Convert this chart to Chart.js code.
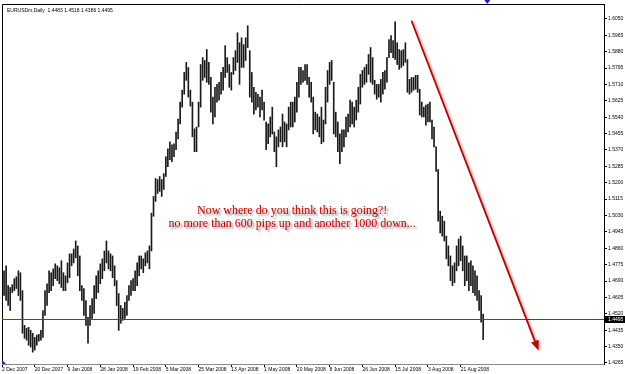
<!DOCTYPE html>
<html>
<head>
<meta charset="utf-8">
<script src="https://cdn.jsdelivr.net/npm/chart.js@4/dist/chart.umd.min.js"></script>
<style>
  body { margin: 0; background: #fff; }
  canvas { display: block; }
</style>
</head>
<body>
<canvas id="eur-chart" width="625" height="374"></canvas>
<script>
// EURUSDm daily, 2 Dec 2007 .. 2 Sep 2008
const symbolName = 'EURUSDm,Daily';
const lastBar = [1.4483, 1.4518, 1.4386, 1.4495]; // open high low close
const currentPrice = 1.4495;

const dateLabels = ['2 Dec 2007', '20 Dec 2007', '9 Jan 2008', '28 Jan 2008', '19 Feb 2008',
    '5 Mar 2008', '25 Mar 2008', '13 Apr 2008', '1 May 2008', '20 May 2008', '8 Jun 2008',
    '26 Jun 2008', '15 Jul 2008', '3 Aug 2008', '21 Aug 2008'];
const barsPerLabel = 16;
const totalSlots = 295;

const priceTicks = [1.6050, 1.5965, 1.5880, 1.5795, 1.5710, 1.5625, 1.5540, 1.5455, 1.5370,
    1.5285, 1.5200, 1.5115, 1.5030, 1.4945, 1.4860, 1.4775, 1.4690, 1.4605, 1.4520, 1.4435,
    1.4350, 1.4265];
const priceMin = 1.42595;
const priceMax = 1.6127;

const highs = [
    1.4692, 1.4743, 1.4769, 1.4666, 1.4656, 1.4671, 1.4702, 1.4712, 1.4743, 1.4733,
    1.4640, 1.4460, 1.4445, 1.4450, 1.4434, 1.4419, 1.4398, 1.4409, 1.4414, 1.4434,
    1.4537, 1.4640, 1.4676, 1.4743, 1.4733, 1.4753, 1.4779, 1.4769, 1.4759, 1.4795,
    1.4733, 1.4717, 1.4784, 1.4831, 1.4831, 1.4856, 1.4898, 1.4872, 1.4820, 1.4666,
    1.4651, 1.4589, 1.4501, 1.4563, 1.4599, 1.4666, 1.4717, 1.4743, 1.4779, 1.4805,
    1.4846, 1.4898, 1.4846, 1.4831, 1.4820, 1.4769, 1.4692, 1.4625, 1.4563, 1.4548,
    1.4579, 1.4615, 1.4666, 1.4692, 1.4702, 1.4743, 1.4784, 1.4820, 1.4820, 1.4805,
    1.4836, 1.4846, 1.4872, 1.5042, 1.5129, 1.5222, 1.5216, 1.5232, 1.5216, 1.5247,
    1.5335, 1.5376, 1.5412, 1.5397, 1.5402, 1.5463, 1.5530, 1.5618, 1.5680, 1.5772,
    1.5824, 1.5798, 1.5680, 1.5618, 1.5479, 1.5489, 1.5618, 1.5813, 1.5849, 1.5834,
    1.5891, 1.5824, 1.5746, 1.5644, 1.5695, 1.5710, 1.5721, 1.5772, 1.5798, 1.5911,
    1.5849, 1.5813, 1.5772, 1.5849, 1.5885, 1.5978, 1.5926, 1.5952, 1.5916, 1.5952,
    1.6014, 1.5885, 1.5772, 1.5695, 1.5669, 1.5659, 1.5644, 1.5680, 1.5618, 1.5515,
    1.5505, 1.5541, 1.5592, 1.5463, 1.5438, 1.5474, 1.5489, 1.5556, 1.5515, 1.5505,
    1.5592, 1.5618, 1.5618, 1.5644, 1.5721, 1.5798, 1.5798, 1.5782, 1.5813, 1.5813,
    1.5746, 1.5721, 1.5644, 1.5566, 1.5556, 1.5541, 1.5592, 1.5525, 1.5695, 1.5782,
    1.5824, 1.5834, 1.5721, 1.5566, 1.5515, 1.5453, 1.5474, 1.5474, 1.5541, 1.5556,
    1.5628, 1.5618, 1.5592, 1.5628, 1.5695, 1.5762, 1.5782, 1.5798, 1.5813, 1.5865,
    1.5901, 1.5849, 1.5731, 1.5710, 1.5710, 1.5736, 1.5772, 1.5782, 1.5849, 1.5942,
    1.5963, 1.5937, 1.6035, 1.5926, 1.5891, 1.5885, 1.5891, 1.5926, 1.5839, 1.5736,
    1.5746, 1.5746, 1.5757, 1.5757, 1.5685, 1.5618, 1.5592, 1.5602, 1.5608, 1.5618,
    1.5525, 1.5489, 1.5386, 1.5268, 1.5052, 1.5026, 1.5000, 1.4923, 1.4872, 1.4820,
    1.4769, 1.4784, 1.4872, 1.4908, 1.4923, 1.4872, 1.4820, 1.4820, 1.4784, 1.4795,
    1.4769, 1.4743, 1.4717, 1.4640, 1.4615, 1.4518
];
const lows = [
    1.4625, 1.4615, 1.4589, 1.4563, 1.4537, 1.4630, 1.4640, 1.4651, 1.4615, 1.4589,
    1.4419, 1.4393, 1.4383, 1.4357, 1.4347, 1.4321, 1.4332, 1.4357, 1.4378, 1.4383,
    1.4398, 1.4512, 1.4563, 1.4630, 1.4640, 1.4666, 1.4702, 1.4692, 1.4676, 1.4656,
    1.4640, 1.4640, 1.4681, 1.4707, 1.4769, 1.4784, 1.4810, 1.4717, 1.4640, 1.4589,
    1.4512, 1.4460, 1.4368, 1.4460, 1.4496, 1.4522, 1.4599, 1.4630, 1.4676, 1.4702,
    1.4743, 1.4784, 1.4753, 1.4743, 1.4707, 1.4666, 1.4563, 1.4434, 1.4471, 1.4486,
    1.4496, 1.4512, 1.4589, 1.4615, 1.4640, 1.4640, 1.4666, 1.4717, 1.4753, 1.4733,
    1.4769, 1.4784, 1.4753, 1.4846, 1.5026, 1.5103, 1.5144, 1.5155, 1.5129, 1.5165,
    1.5232, 1.5283, 1.5319, 1.5309, 1.5335, 1.5371, 1.5427, 1.5505, 1.5592, 1.5659,
    1.5731, 1.5644, 1.5597, 1.5438, 1.5361, 1.5361, 1.5489, 1.5592, 1.5731, 1.5746,
    1.5721, 1.5710, 1.5566, 1.5505, 1.5541, 1.5618, 1.5628, 1.5659, 1.5680, 1.5746,
    1.5772, 1.5695, 1.5680, 1.5762, 1.5782, 1.5824, 1.5710, 1.5798, 1.5798, 1.5834,
    1.5901, 1.5644, 1.5618, 1.5556, 1.5577, 1.5592, 1.5541, 1.5577, 1.5525, 1.5371,
    1.5402, 1.5438, 1.5453, 1.5361, 1.5283, 1.5386, 1.5412, 1.5386, 1.5412, 1.5386,
    1.5474, 1.5489, 1.5489, 1.5515, 1.5566, 1.5644, 1.5710, 1.5721, 1.5731, 1.5710,
    1.5644, 1.5618, 1.5453, 1.5474, 1.5463, 1.5438, 1.5402, 1.5412, 1.5505, 1.5618,
    1.5710, 1.5731, 1.5453, 1.5438, 1.5361, 1.5299, 1.5361, 1.5386, 1.5438, 1.5463,
    1.5489, 1.5505, 1.5489, 1.5525, 1.5566, 1.5608, 1.5695, 1.5710, 1.5721, 1.5762,
    1.5721, 1.5710, 1.5659, 1.5633, 1.5644, 1.5618, 1.5659, 1.5685, 1.5721, 1.5849,
    1.5875, 1.5849, 1.5839, 1.5813, 1.5788, 1.5798, 1.5808, 1.5824, 1.5669, 1.5659,
    1.5669, 1.5680, 1.5685, 1.5669, 1.5551, 1.5541, 1.5541, 1.5499, 1.5515, 1.5515,
    1.5427, 1.5386, 1.5258, 1.5000, 1.4939, 1.4923, 1.4898, 1.4805, 1.4769, 1.4692,
    1.4666, 1.4681, 1.4743, 1.4769, 1.4795, 1.4743, 1.4666, 1.4692, 1.4640, 1.4666,
    1.4630, 1.4615, 1.4589, 1.4537, 1.4476, 1.4386
];

const noteLines = ['Now where do you think this is going?!',
    'no more than 600 pips up and another 1000 down...'];
// arrow drawn in data space: [bar index, price]
const arrowFrom = [200, 1.6040];
const arrowTo = [262, 1.4330];

document.addEventListener('DOMContentLoaded', function() {
    loadChart();
});

function loadChart() {
    const labels = [];
    for (let i = 0; i < totalSlots; i++) {
        const k = i / barsPerLabel;
        labels.push(Number.isInteger(k) && dateLabels[k] ? dateLabels[k] : '');
    }

    const overlay = {
        id: 'overlay',
        beforeDraw(chart) {
            const ctx = chart.ctx;
            ctx.save();
            ctx.fillStyle = '#fff';
            ctx.fillRect(0, 0, chart.width, chart.height);
            ctx.restore();
        },
        afterDatasetsDraw(chart) {
            const ctx = chart.ctx;
            const a = chart.chartArea;
            const x = chart.scales.x, y = chart.scales.y;
            ctx.save();

            // plot frame left + top
            ctx.strokeStyle = '#000';
            ctx.lineWidth = 1;
            ctx.beginPath();
            ctx.moveTo(a.left + 0.5, a.bottom);
            ctx.lineTo(a.left + 0.5, a.top + 0.5);
            ctx.lineTo(a.right, a.top + 0.5);
            ctx.stroke();

            // bid line
            const py = Math.round(y.getPixelForValue(currentPrice)) + 0.5;
            ctx.strokeStyle = '#3a3ac8';
            ctx.beginPath();
            ctx.moveTo(a.left, py);
            ctx.lineTo(a.right, py);
            ctx.stroke();

            // symbol header
            ctx.fillStyle = '#000';
            ctx.font = '5px "Liberation Sans"';
            ctx.textBaseline = 'middle';
            ctx.fillText(symbolName + '  ' + lastBar.map(v => v.toFixed(4)).join(' '), a.left + 5, a.top + 7);

            // note text
            ctx.font = '12px "Liberation Serif"';
            ctx.textAlign = 'center';
            ctx.fillStyle = '#cc0000';
            ctx.shadowColor = 'rgba(0,0,0,0.45)';
            ctx.shadowOffsetX = 2;
            ctx.shadowOffsetY = 2;
            ctx.shadowBlur = 2;
            const cx = a.left + a.width * 0.482;
            ctx.fillText(noteLines[0], cx, a.top + a.height * 0.574);
            ctx.fillText(noteLines[1], cx, a.top + a.height * 0.611);

            // arrow
            const x0 = x.getPixelForValue(arrowFrom[0]), y0 = y.getPixelForValue(arrowFrom[1]);
            const x1 = x.getPixelForValue(arrowTo[0]), y1 = y.getPixelForValue(arrowTo[1]);
            const ang = Math.atan2(y1 - y0, x1 - x0);
            const headLen = 10, headW = 4;
            const bx = x1 - headLen * Math.cos(ang), by = y1 - headLen * Math.sin(ang);
            ctx.shadowOffsetX = 2;
            ctx.shadowOffsetY = 1;
            ctx.shadowBlur = 2;
            ctx.shadowColor = 'rgba(0,0,0,0.3)';
            ctx.strokeStyle = '#c00000';
            ctx.fillStyle = '#c00000';
            ctx.lineWidth = 1.8;
            ctx.beginPath();
            ctx.moveTo(x0, y0);
            ctx.lineTo(bx, by);
            ctx.stroke();
            ctx.beginPath();
            ctx.moveTo(x1, y1);
            ctx.lineTo(bx + headW * Math.sin(ang), by - headW * Math.cos(ang));
            ctx.lineTo(bx - headW * Math.sin(ang), by + headW * Math.cos(ang));
            ctx.closePath();
            ctx.fill();
            ctx.restore();

            // chart shift markers
            ctx.save();
            ctx.fillStyle = '#2020c0';
            const sx = x.getPixelForValue(highs.length + 1);
            ctx.beginPath();
            ctx.moveTo(sx - 3, 0);
            ctx.lineTo(sx + 3, 0);
            ctx.lineTo(sx, 4);
            ctx.closePath();
            ctx.fill();
            ctx.beginPath();
            ctx.moveTo(a.left, a.bottom);
            ctx.lineTo(a.left + 4, a.bottom);
            ctx.lineTo(a.left, a.bottom - 4);
            ctx.closePath();
            ctx.fill();
            ctx.restore();
        },
        afterDraw(chart) {
            // current price box on the price axis
            const ctx = chart.ctx;
            const a = chart.chartArea;
            const py = Math.round(chart.scales.y.getPixelForValue(currentPrice));
            ctx.save();
            ctx.fillStyle = '#000';
            ctx.fillRect(a.right + 1, py - 3, chart.width - a.right - 1, 7);
            ctx.fillStyle = '#fff';
            ctx.font = '5px "Liberation Sans"';
            ctx.textBaseline = 'middle';
            ctx.fillText(currentPrice.toFixed(4), a.right + 4, py + 0.5);
            ctx.restore();
        }
    };

    const ctx = document.getElementById('eur-chart');
    const myChart = new Chart(ctx, {
        type: 'bar',
        data: {
            labels: labels,
            datasets: [{
                label: 'EURUSDm',
                data: highs.map((h, i) => [lows[i], h]),
                backgroundColor: '#1a1a1a',
                borderWidth: 0,
                barThickness: 1
            }]
        },
        options: {
            responsive: false,
            animation: false,
            devicePixelRatio: 1,
            layout: { padding: { top: 1, left: 2, right: 0, bottom: 0 } },
            plugins: {
                legend: { display: false },
                tooltip: { enabled: false }
            },
            scales: {
                x: {
                    type: 'category',
                    offset: false,
                    border: { color: '#8a8a8a', width: 1 },
                    grid: {
                        offset: false,
                        drawOnChartArea: false,
                        tickLength: 3,
                        color: c => labels[c.index] ? '#000' : 'rgba(0,0,0,0)'
                    },
                    ticks: {
                        autoSkip: false,
                        maxRotation: 0,
                        minRotation: 0,
                        align: 'start',
                        padding: 0,
                        color: '#000',
                        font: { family: 'Liberation Sans', size: 5 }
                    },
                    afterFit: s => { s.height = 10; }
                },
                y: {
                    position: 'right',
                    min: priceMin,
                    max: priceMax,
                    border: { color: '#000', width: 1 },
                    grid: { drawOnChartArea: false, tickLength: 3, color: '#000' },
                    afterBuildTicks: s => { s.ticks = priceTicks.map(v => ({ value: v })); },
                    ticks: {
                        padding: 1,
                        color: '#000',
                        font: { family: 'Liberation Sans', size: 5 },
                        callback: v => Number(v).toFixed(4)
                    },
                    afterFit: s => { s.width = 21; }
                }
            }
        },
        plugins: [overlay]
    });
}
</script>
</body>
</html>
